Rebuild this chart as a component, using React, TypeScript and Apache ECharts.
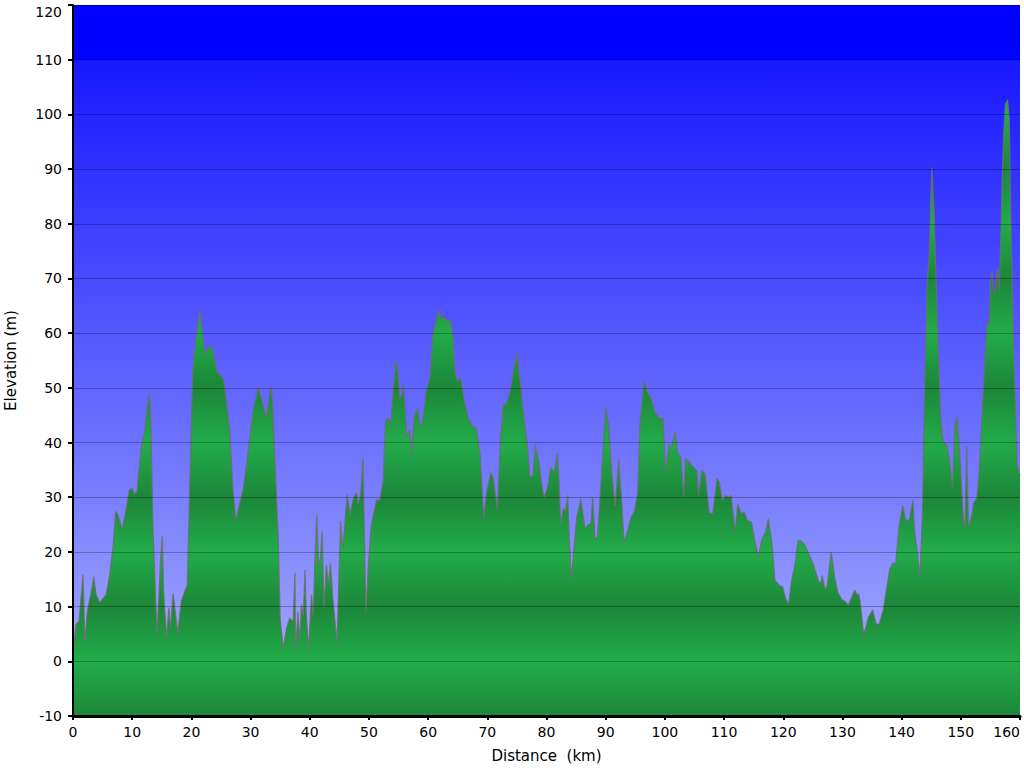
import React, { useEffect, useRef } from "react";
import * as echarts from "echarts";

const DISTANCE_KM = [
  0, 0.5, 1.0, 1.7, 2.0, 2.4, 3.1, 3.5, 3.9, 4.5, 5.6, 6.2, 6.8, 7.2, 7.6, 8.3, 8.9, 9.5, 10.0, 10.4,
  10.8, 11.5, 12.1, 12.8, 13.1, 13.5, 14.2, 14.8, 15.1, 15.3, 15.8, 16.2, 16.5, 16.9, 17.7, 18.3, 18.9, 19.3, 19.7, 20.2,
  20.4, 21.1, 21.4, 21.9, 22.3, 22.6, 23.4, 23.9, 24.3, 25.4, 25.9, 26.5, 27.0, 27.5, 28.1, 28.8, 29.6, 30.4, 31.3, 32.1,
  32.7, 33.4, 33.7, 34.1, 34.7, 35.0, 35.5, 36.1, 36.6, 37.2, 37.5, 37.6, 38.0, 38.3, 38.6, 38.9, 39.2, 39.4, 39.8, 40.3,
  40.6, 40.8, 41.2, 41.5, 41.8, 42.1, 42.4, 42.8, 43.2, 43.5, 43.9, 44.6, 45.2, 45.6, 46.3, 46.8, 47.4, 47.9, 48.2, 48.6,
  49.0, 49.3, 49.5, 49.9, 50.4, 51.3, 51.8, 52.4, 52.8, 53.2, 53.7, 54.1, 54.5, 54.8, 55.2, 55.5, 55.8, 56.1, 56.4, 56.9,
  57.2, 57.6, 58.2, 58.6, 59.0, 59.7, 60.3, 60.8, 61.2, 61.8, 62.3, 62.9, 63.3, 63.8, 64.2, 64.6, 65.0, 65.5, 66.1, 66.8,
  67.4, 68.1, 68.8, 69.4, 69.9, 70.6, 71.0, 71.7, 72.2, 72.7, 73.2, 73.9, 74.4, 75.0, 75.6, 76.2, 76.8, 77.2, 77.7, 78.1,
  78.7, 79.2, 79.6, 80.2, 80.7, 81.3, 81.8, 82.1, 82.4, 82.8, 83.2, 83.6, 83.8, 84.2, 84.7, 85.1, 85.8, 86.5, 87.0, 87.5,
  87.8, 88.2, 88.6, 89.3, 90.0, 90.5, 91.0, 91.6, 92.2, 92.7, 93.1, 93.7, 94.3, 94.8, 95.4, 95.8, 96.2, 96.5, 97.0, 97.6,
  98.2, 99.0, 99.7, 100.1, 100.7, 101.2, 101.7, 102.2, 102.7, 103.2, 103.5, 104.1, 104.8, 105.4, 105.7, 106.2, 106.8, 107.5, 108.1, 108.8,
  109.2, 109.7, 110.2, 110.8, 111.2, 111.9, 112.3, 112.9, 113.4, 113.9, 114.6, 115.3, 115.8, 116.4, 117.0, 117.5, 118.1, 118.6, 119.3, 119.9,
  120.4, 120.9, 121.4, 121.9, 122.5, 122.9, 123.7, 124.4, 125.1, 126.0, 126.4, 126.6, 127.0, 127.4, 128.1, 128.7, 129.2, 129.9, 130.6, 131.0,
  131.6, 132.1, 132.5, 132.7, 133.0, 133.6, 134.4, 135.1, 135.7, 136.2, 136.9, 137.5, 138.0, 138.5, 139.0, 139.6, 140.2, 140.7, 141.3, 141.9,
  142.2, 142.6, 143.1, 143.5, 143.9, 144.3, 144.7, 144.9, 145.1, 145.5, 145.8, 146.2, 146.6, 147.0, 147.7, 148.2, 148.6, 149.0, 149.4, 149.9,
  150.4, 150.7, 151.0, 151.3, 151.8, 152.2, 152.7, 153.1, 153.5, 154.0, 154.4, 154.8, 155.0, 155.3, 155.5, 155.8, 156.2, 156.5, 156.9, 157.2,
  157.5, 157.9, 158.2, 158.4, 158.8, 159.0, 159.2, 159.5, 160.0,
];

const ELEVATION_M = [
  1.5, 6.7, 7.3, 15.9, 3.4, 9.1, 12.8, 15.5, 12.2, 10.7, 12.2, 15.9, 21.3, 27.4, 26.8, 24.1, 27.4, 31.3, 31.6, 30.5,
  31.1, 39.0, 42.1, 48.8, 45.7, 25.0, 4.9, 18.9, 22.9, 12.8, 4.3, 9.8, 6.1, 12.5, 5.2, 11.0, 12.8, 14.0, 31.1, 52.4,
  55.5, 61.6, 64.0, 59.8, 56.1, 57.0, 57.7, 55.5, 53.0, 51.7, 47.6, 42.0, 32.0, 25.6, 28.7, 31.7, 38.4, 45.7, 50.0, 47.0,
  44.5, 50.3, 47.6, 37.2, 22.0, 7.9, 2.4, 6.1, 7.9, 7.3, 16.2, 1.8, 9.1, 3.7, 10.4, 8.2, 16.8, 9.1, 2.1, 12.2,
  8.2, 16.5, 26.8, 17.7, 18.9, 23.8, 9.8, 17.7, 14.0, 18.0, 11.6, 3.4, 25.6, 20.7, 30.5, 26.8, 29.9, 30.8, 28.7, 30.5,
  37.2, 18.9, 9.1, 17.7, 25.0, 29.6, 29.3, 32.9, 43.9, 44.5, 43.3, 49.4, 54.6, 54.3, 47.9, 48.5, 50.6, 46.3, 40.9, 42.4,
  37.8, 44.5, 46.3, 43.3, 43.3, 49.4, 51.8, 59.8, 61.6, 64.1, 62.8, 62.7, 62.3, 62.3, 59.1, 52.4, 51.2, 51.8, 47.6, 44.5,
  43.0, 42.7, 37.8, 26.2, 31.1, 34.5, 33.5, 27.7, 40.2, 47.0, 47.0, 49.4, 53.0, 56.4, 50.6, 44.5, 39.0, 33.8, 33.8, 39.6,
  36.6, 32.3, 29.9, 31.9, 35.5, 34.6, 38.0, 33.7, 25.2, 27.9, 27.6, 30.3, 23.9, 15.1, 21.5, 26.4, 29.7, 24.3, 24.9, 25.2,
  30.0, 22.4, 22.7, 34.3, 46.5, 43.1, 34.9, 28.2, 37.1, 29.4, 21.8, 23.9, 26.4, 27.3, 30.7, 43.4, 48.3, 51.4, 49.2, 48.3,
  45.9, 44.4, 44.4, 34.9, 39.5, 39.5, 41.9, 38.0, 37.4, 30.0, 37.1, 36.4, 35.5, 34.9, 30.3, 34.9, 34.3, 27.1, 27.1, 33.4,
  32.8, 29.4, 30.3, 30.0, 30.3, 23.6, 28.8, 27.0, 27.3, 25.8, 25.5, 21.5, 19.1, 22.4, 23.6, 26.1, 21.5, 14.8, 13.9, 13.6,
  11.5, 10.4, 14.8, 17.2, 22.1, 22.1, 21.2, 19.4, 17.6, 14.5, 14.5, 15.7, 13.3, 13.6, 20.0, 15.4, 12.7, 11.3, 10.8, 10.2,
  11.8, 13.0, 12.1, 12.4, 11.0, 4.8, 8.1, 9.4, 6.8, 6.8, 9.4, 13.6, 16.9, 17.9, 17.9, 25.1, 28.5, 25.8, 25.8, 29.5,
  23.7, 20.3, 15.6, 26.4, 50.2, 69.2, 74.6, 84.1, 90.2, 82.0, 70.5, 56.9, 44.7, 40.3, 39.3, 35.9, 31.9, 43.4, 44.7, 36.6,
  26.4, 24.4, 39.3, 24.6, 26.4, 29.1, 29.8, 34.6, 43.4, 53.6, 61.7, 61.7, 69.8, 71.2, 67.5, 67.8, 71.9, 67.8, 84.1, 95.6,
  101.7, 102.7, 99.0, 84.1, 63.7, 54.3, 47.0, 36.0, 34.0,
];

const Y_MIN = -10;
const Y_MAX = 120;
const X_MIN = 0;
const X_MAX = 160;

const FONT = "DejaVu Sans";

export default function App() {
  const ref = useRef<HTMLDivElement>(null);

  useEffect(() => {
    document.body.style.margin = "0";
    const chart = echarts.init(ref.current as HTMLDivElement, null, { renderer: "svg" });

    const gridTop = 5;
    const gridBottom = 52;
    const plotBottomPx = 768 - gridBottom;

    const light = "rgb(34,172,74)";
    const dark = "rgb(28,134,57)";
    const greenStops: { offset: number; color: string }[] = [];
    for (let v = Y_MAX; v >= Y_MIN; v -= 10) {
      greenStops.push({
        offset: (Y_MAX - v) / (Y_MAX - Y_MIN),
        color: v % 20 === 0 ? light : dark,
      });
    }
    const greenFill = new echarts.graphic.LinearGradient(0, gridTop, 0, plotBottomPx, greenStops, true);

    const cut = 10 / 130;
    const blueFill = new echarts.graphic.LinearGradient(0, 0, 0, 1, [
      { offset: 0, color: "#0000ff" },
      { offset: cut, color: "#0000ff" },
      { offset: cut + 0.0005, color: "rgb(24,24,255)" },
      { offset: 120 / 130, color: "rgb(158,166,252)" },
      { offset: 1, color: "rgb(168,176,250)" },
    ]);

    const data = DISTANCE_KM.map((d, i) => [d, ELEVATION_M[i]]);

    chart.setOption({
      animation: false,
      grid: {
        left: 73,
        right: 4,
        top: gridTop,
        bottom: gridBottom,
        show: true,
        backgroundColor: blueFill,
        borderWidth: 0,
        containLabel: false,
        outerBoundsMode: "none",
      },
      xAxis: {
        type: "value",
        min: X_MIN,
        max: X_MAX,
        interval: 10,
        z: 4,
        name: "Distance  (km)",
        nameLocation: "middle",
        nameGap: 32,
        nameTextStyle: { color: "#000", fontSize: 15, fontFamily: FONT },
        axisLine: { onZero: false, lineStyle: { color: "#000", width: 3 } },
        axisTick: { show: true, length: 4, lineStyle: { color: "#000", width: 2 } },
        axisLabel: { color: "#000", fontSize: 14, fontFamily: FONT, margin: 9, alignMaxLabel: "right" },
        splitLine: { show: false },
      },
      yAxis: {
        type: "value",
        min: Y_MIN,
        max: Y_MAX,
        interval: 10,
        z: 3,
        name: "Elevation (m)",
        nameLocation: "middle",
        nameGap: 55,
        nameTextStyle: { color: "#000", fontSize: 15, fontFamily: FONT },
        axisLine: { show: true, lineStyle: { color: "#000", width: 2 } },
        axisTick: { show: true, length: 5, lineStyle: { color: "#000", width: 2 } },
        axisLabel: {
          color: "#000",
          fontSize: 14,
          fontFamily: FONT,
          margin: 11,
          verticalAlignMaxLabel: "top",
        },
        splitLine: { show: true, lineStyle: { color: "rgba(0,0,0,0.28)", width: 1 } },
      },
      series: [
        {
          type: "line",
          data,
          symbol: "none",
          smooth: false,
          z: 2,
          lineStyle: { color: "rgba(110,110,110,0.85)", width: 1.2 },
          areaStyle: { origin: "start", color: greenFill, opacity: 1 },
        },
      ],
    });

    return () => {
      chart.dispose();
    };
  }, []);

  return <div ref={ref} style={{ width: 1024, height: 768 }} />;
}
